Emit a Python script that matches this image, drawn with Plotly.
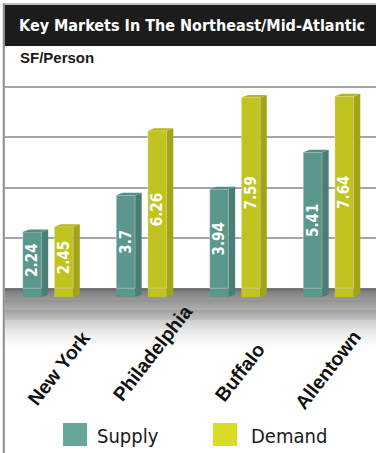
import plotly.graph_objects as go

# ---------------- data ----------------
markets = ["New York", "Philadelphia", "Buffalo", "Allentown"]
supply = [2.24, 3.7, 3.94, 5.41]
demand = [2.45, 6.26, 7.59, 7.64]
series_names = ["Supply", "Demand"]
grid_vals = [2, 4, 6, 8]

# ---------------- geometry helpers ----------------
W, H = 376, 453
ML, MR, MT, MB = 5, 0, 66, 53
PW, PH = W - ML - MR, H - MT - MB
Y_RANGE = [-4.441, 8.839]
X_RANGE = [-0.489, 3.479]


def px_x(px):
    return (px - ML) / PW


def px_y(py):
    return (H - MB - py) / PH


NARROW = "DejaVu Sans Condensed, Arial Narrow, sans-serif"
SANS = "Liberation Sans, Arial, Helvetica, sans-serif"

face = {
    "Supply": dict(front="#5b978d", side="#497d75", top="#548e85", legend="#66a69b"),
    "Demand": dict(front="#c1c420", side="#a2a51b", top="#b3b71e", legend="#d8dc22"),
}
bar_width = 0.203
offsets = {"Supply": -0.2995, "Demand": 0.0385}
dx = 0.0695  # depth of 3D side in x units
dy = 0.10    # depth of 3D side in y units
foot = -0.35  # bars sink below the floor line

# hand placement of the rotated category labels (pixel nudges, style only)
label_xshift = [8, 8, 2, -4]
label_bottom_px = [412, 408, 408, 416]

fig = go.Figure()
for name, vals in zip(series_names, [supply, demand]):
    fig.add_trace(go.Bar(
        x=markets, y=vals, name=name,
        width=bar_width, offset=offsets[name],
        marker=dict(color=face[name]["front"], line=dict(width=0.6, color="rgba(255,255,255,0.6)")),
        text=[f"{v:g}" for v in vals],
        textposition="inside", insidetextanchor="middle", textangle=-90,
        constraintext="none",
        textfont=dict(family=NARROW, size=15, color="white", weight="bold"),
        showlegend=False, hoverinfo="x+y",
    ))

shapes = []
# floor gradient (drawn first, below everything)
n_strips = 60
floor_bottom = -2.45
for i in range(n_strips):
    t0 = i / n_strips
    t1 = (i + 1) / n_strips
    g = int(255 - (255 - 72) * (1 - (t0 + t1) / 2) ** 1.5)
    shapes.append(dict(type="rect", xref="paper", yref="y", x0=0, x1=1,
                       y0=t0 * floor_bottom, y1=t1 * floor_bottom,
                       fillcolor=f"rgb({g},{g},{g})", line=dict(width=0), layer="below"))

# 3D faces of bars, computed from the data values
for name, vals in zip(series_names, [supply, demand]):
    c = face[name]
    for i, v in enumerate(vals):
        xl = i + offsets[name]
        xr = xl + bar_width
        # foot below floor line (front)
        shapes.append(dict(type="rect", xref="x", yref="y", x0=xl, x1=xr, y0=foot, y1=0,
                           fillcolor=c["front"], line=dict(width=0), layer="below"))
        # side face
        shapes.append(dict(type="path", xref="x", yref="y",
                           path=f"M{xr},{foot} L{xr+dx},{foot+dy} L{xr+dx},{v+dy} L{xr},{v} Z",
                           fillcolor=c["side"], line=dict(width=0), layer="above"))
        # top face
        shapes.append(dict(type="path", xref="x", yref="y",
                           path=f"M{xl},{v} L{xl+dx},{v+dy} L{xr+dx},{v+dy} L{xr},{v} Z",
                           fillcolor=c["top"], line=dict(width=0), layer="above"))

# frame lines and title bar (pixel positions converted to paper coords)
shapes.append(dict(type="rect", xref="paper", yref="paper", x0=px_x(4.5), x1=px_x(377),
                   y0=px_y(46), y1=px_y(5), fillcolor="#1c1c1c", line=dict(width=0), layer="above"))
shapes.append(dict(type="line", xref="paper", yref="paper", x0=px_x(3), x1=px_x(377),
                   y0=px_y(4), y1=px_y(4), line=dict(color="#a8a8a8", width=1.5), layer="above"))
shapes.append(dict(type="line", xref="paper", yref="paper", x0=px_x(3.8), x1=px_x(3.8),
                   y0=px_y(3.5), y1=px_y(454), line=dict(color="#8c8c8c", width=2), layer="above"))

# legend keys
legend_keys = [("Supply", 63, 95), ("Demand", 213, 249)]
annotations = []
for name, kx, tx in legend_keys:
    shapes.append(dict(type="rect", xref="paper", yref="paper", x0=px_x(kx), x1=px_x(kx + 24),
                       y0=px_y(446), y1=px_y(423), fillcolor=face[name]["legend"],
                       line=dict(width=0), layer="above"))
    annotations.append(dict(xref="paper", yref="paper", x=px_x(tx), y=px_y(436), text=name,
                            showarrow=False, xanchor="left", yanchor="middle",
                            font=dict(family=NARROW, size=20, color="#1a1a1a")))

# title + unit
annotations.append(dict(xref="paper", yref="paper", x=px_x(17), y=px_y(26),
                        text="Key Markets In The Northeast/Mid-Atlantic", showarrow=False,
                        xanchor="left", yanchor="middle",
                        font=dict(family=NARROW, size=16, color="white", weight="bold")))
annotations.append(dict(xref="paper", yref="paper", x=px_x(18), y=px_y(57),
                        text="SF/Person", showarrow=False, xanchor="left", yanchor="middle",
                        font=dict(family=SANS, size=15, color="#1a1a1a", weight="bold")))

# rotated category labels
for m, xs, yb in zip(markets, label_xshift, label_bottom_px):
    annotations.append(dict(xref="x", yref="paper", x=m, y=px_y(yb), text=m, showarrow=False,
                            xanchor="center", yanchor="bottom", xshift=xs, textangle=-52,
                            font=dict(family=SANS, size=19.5, color="#111111", weight="bold")))

fig.update_layout(
    width=W, height=H,
    margin=dict(l=ML, r=MR, t=MT, b=MB, pad=0),
    paper_bgcolor="white", plot_bgcolor="rgba(0,0,0,0)",
    barmode="overlay",
    xaxis=dict(range=X_RANGE, showticklabels=False, showgrid=False, zeroline=False,
               showline=False, ticks=""),
    yaxis=dict(range=Y_RANGE, tickvals=grid_vals, showticklabels=False, showgrid=True,
               gridcolor="#a6a6a6", gridwidth=2, zeroline=False, showline=False, ticks=""),
    shapes=shapes, annotations=annotations,
)

fig.write_html("out.html")
